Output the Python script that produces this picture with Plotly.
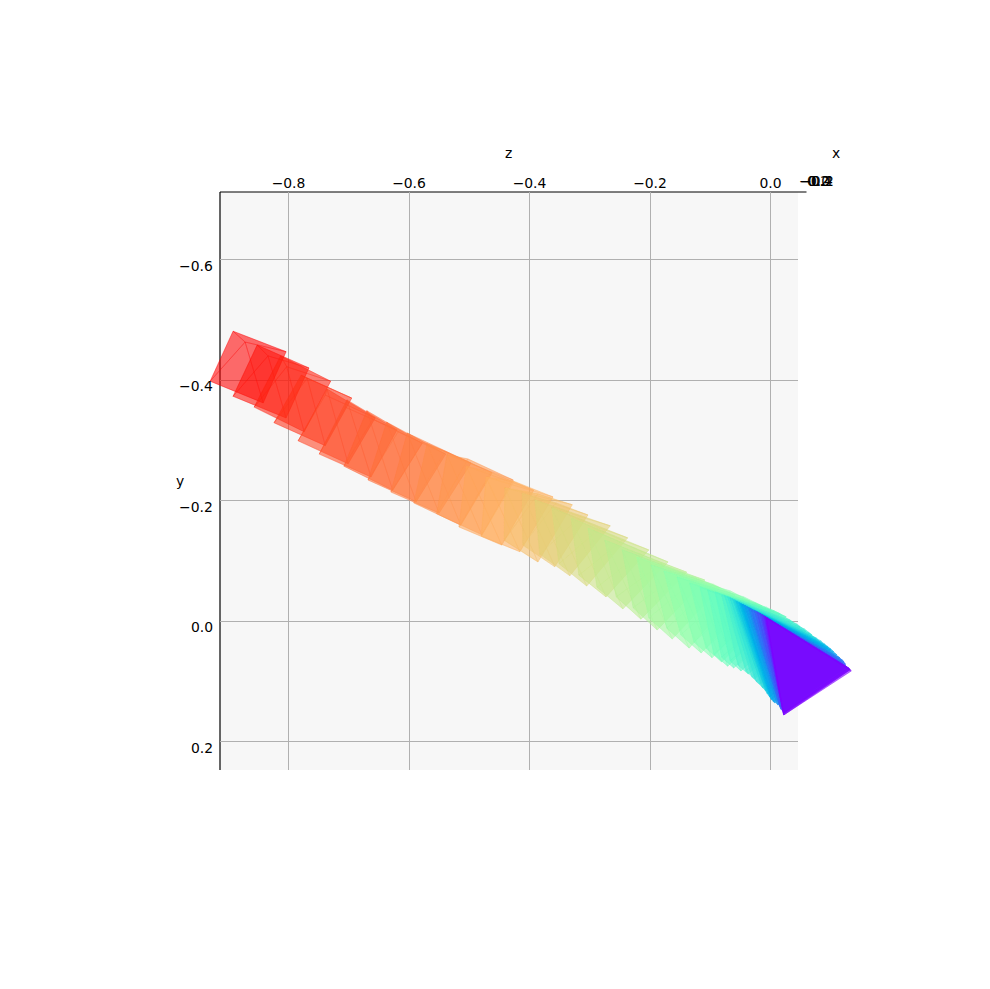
import math
import plotly.graph_objects as go

# Camera frustum vertices (data units of the z and y axes)
apex_z = [-0.872,-0.834,-0.803,-0.769,-0.736,-0.703,-0.670,-0.637,-0.603,-0.570,-0.537,-0.505,-0.472,-0.441,-0.412,-0.391,-0.363,-0.331,-0.303,-0.275,-0.246,-0.222,-0.198,-0.177,-0.155,-0.134,-0.117,-0.104,-0.092,-0.081,-0.076,-0.071,-0.067,-0.062,-0.059,-0.056,-0.052,-0.049,-0.046,-0.042,-0.037,-0.034,-0.031,-0.026,-0.022,-0.017,-0.014,-0.011,-0.009,-0.007]
apex_y = [-0.463,-0.440,-0.422,-0.403,-0.385,-0.367,-0.349,-0.330,-0.312,-0.294,-0.276,-0.257,-0.239,-0.221,-0.212,-0.201,-0.188,-0.171,-0.154,-0.134,-0.118,-0.106,-0.093,-0.083,-0.073,-0.063,-0.056,-0.051,-0.048,-0.043,-0.042,-0.040,-0.038,-0.035,-0.033,-0.032,-0.030,-0.028,-0.027,-0.025,-0.022,-0.020,-0.018,-0.017,-0.015,-0.012,-0.010,-0.008,-0.007,-0.005]
a_z = [-0.892,-0.852,-0.813,-0.779,-0.739,-0.706,-0.660,-0.618,-0.577,-0.540,-0.502,-0.464,-0.426,-0.386,-0.356,-0.316,-0.283,-0.246,-0.213,-0.180,-0.149,-0.122,-0.095,-0.067,-0.044,-0.024,-0.007,0.006,0.019,0.032,0.044,0.056,0.064,0.076,0.084,0.090,0.095,0.100,0.107,0.112,0.115,0.120,0.122,0.124,0.125,0.127,0.129,0.130,0.130,0.132]
a_y = [-0.481,-0.458,-0.440,-0.408,-0.375,-0.355,-0.335,-0.314,-0.297,-0.282,-0.269,-0.247,-0.232,-0.211,-0.196,-0.173,-0.154,-0.134,-0.115,-0.096,-0.081,-0.071,-0.061,-0.050,-0.040,-0.030,-0.023,-0.017,-0.010,-0.002,0.005,0.013,0.020,0.028,0.033,0.038,0.042,0.046,0.053,0.058,0.061,0.065,0.068,0.071,0.075,0.076,0.078,0.078,0.078,0.080]
r_z = [-0.804,-0.766,-0.730,-0.695,-0.656,-0.620,-0.578,-0.539,-0.497,-0.462,-0.427,-0.393,-0.361,-0.329,-0.303,-0.266,-0.237,-0.202,-0.170,-0.139,-0.109,-0.084,-0.059,-0.034,-0.014,0.002,0.016,0.026,0.037,0.049,0.059,0.069,0.076,0.082,0.089,0.095,0.100,0.105,0.110,0.115,0.119,0.122,0.124,0.125,0.127,0.129,0.130,0.132,0.132,0.134]
r_y = [-0.447,-0.420,-0.398,-0.370,-0.337,-0.317,-0.295,-0.277,-0.262,-0.246,-0.234,-0.217,-0.206,-0.193,-0.176,-0.158,-0.138,-0.118,-0.098,-0.081,-0.068,-0.055,-0.043,-0.033,-0.025,-0.017,-0.012,-0.007,0.002,0.010,0.017,0.023,0.030,0.035,0.040,0.045,0.048,0.051,0.056,0.061,0.065,0.068,0.071,0.073,0.076,0.078,0.080,0.081,0.081,0.083]
b_z = [-0.842,-0.804,-0.774,-0.739,-0.701,-0.663,-0.627,-0.588,-0.550,-0.514,-0.479,-0.446,-0.416,-0.386,-0.358,-0.333,-0.305,-0.273,-0.245,-0.215,-0.188,-0.163,-0.135,-0.115,-0.097,-0.081,-0.071,-0.061,-0.049,-0.037,-0.026,-0.017,-0.012,-0.007,-0.004,-0.001,0.002,0.006,0.007,0.012,0.016,0.016,0.017,0.019,0.021,0.022,0.022,0.022,0.022,0.022]
b_y = [-0.362,-0.337,-0.314,-0.291,-0.261,-0.239,-0.217,-0.198,-0.179,-0.159,-0.143,-0.126,-0.115,-0.098,-0.090,-0.075,-0.058,-0.040,-0.020,-0.003,0.015,0.030,0.045,0.053,0.061,0.068,0.075,0.078,0.083,0.088,0.096,0.105,0.111,0.116,0.121,0.126,0.131,0.134,0.136,0.139,0.141,0.143,0.146,0.148,0.149,0.151,0.153,0.154,0.156,0.156]
l_z = [-0.930,-0.892,-0.857,-0.824,-0.784,-0.749,-0.708,-0.668,-0.630,-0.592,-0.554,-0.517,-0.480,-0.442,-0.411,-0.383,-0.351,-0.318,-0.288,-0.256,-0.228,-0.202,-0.172,-0.149,-0.127,-0.107,-0.094,-0.081,-0.067,-0.054,-0.041,-0.031,-0.024,-0.014,-0.009,-0.006,-0.002,0.001,0.004,0.009,0.012,0.014,0.016,0.017,0.019,0.021,0.021,0.021,0.021,0.021]
l_y = [-0.398,-0.373,-0.355,-0.329,-0.299,-0.277,-0.257,-0.234,-0.214,-0.196,-0.178,-0.156,-0.141,-0.134,-0.126,-0.111,-0.095,-0.076,-0.056,-0.040,-0.022,-0.005,0.012,0.023,0.035,0.045,0.055,0.060,0.066,0.073,0.083,0.093,0.100,0.110,0.115,0.120,0.125,0.129,0.133,0.136,0.138,0.139,0.143,0.146,0.148,0.149,0.151,0.151,0.153,0.153]

z_ticks = [-0.8, -0.6, -0.4, -0.2, 0.0]
z_tick_labels = ["−0.8", "−0.6", "−0.4", "−0.2", "0.0"]
y_ticks = [-0.6, -0.4, -0.2, 0.0, 0.2]
y_tick_labels = ["−0.6", "−0.4", "−0.2", "0.0", "0.2"]
x_tick_labels = ["−0.4", "−0.2", "0.0", "0.2"]

FONT = "DejaVu Sans"
FS = 13.9
W, H = 990, 989
SCALE = 602.5          # pixels per data unit
Z0_PX, Y0_PX = 770.5, 621


def rainbow(t, alpha=0.35):
    r = min(1, abs(2 * t - 0.5))
    g = math.sin(math.pi * t)
    b = math.cos(math.pi * t / 2)
    return f"rgba({r*255:.0f},{g*255:.0f},{b*255:.0f},{alpha})"


def px_x(p):
    return p / W


def px_y(p):
    return 1 - p / H


fig = go.Figure()
n = len(apex_z)
for i in range(n):
    t = (n - 1 - i) / (n - 1)
    col = rainbow(t)
    ap = (apex_z[i], apex_y[i])
    A = (a_z[i], a_y[i]); R = (r_z[i], r_y[i]); B = (b_z[i], b_y[i]); L = (l_z[i], l_y[i])
    for poly in ([ap, A, R], [ap, R, B], [ap, B, L], [ap, L, A], [A, R, B, L]):
        closed = poly + [poly[0]]
        fig.add_trace(go.Scatter(
            x=[p[0] for p in closed], y=[p[1] for p in closed],
            xaxis="x2", yaxis="y2",
            mode="lines", fill="toself", fillcolor=col,
            line=dict(color=col, width=0.7),
            hoverinfo="skip", showlegend=False,
        ))

annots = []
for v, s in zip(y_ticks, y_tick_labels):
    annots.append(dict(x=px_x(220), y=v, xref="paper", yref="y", text=s, showarrow=False,
                       xanchor="right", yanchor="middle", xshift=-5, yshift=-6))
for s, cx in zip(x_tick_labels, [816, 816.5, 819, 818]):
    annots.append(dict(x=px_x(cx), y=px_y(181), xref="paper", yref="paper", text=s, showarrow=False,
                       xanchor="center", yanchor="middle"))
for s, cx, cy in (("z", 508, 153), ("x", 836, 153), ("y", 180, 481)):
    annots.append(dict(x=px_x(cx), y=px_y(cy), xref="paper", yref="paper", text=s, showarrow=False,
                       xanchor="center", yanchor="middle"))

shapes = [
    dict(type="rect", xref="paper", yref="paper", x0=px_x(220), x1=px_x(798), y0=px_y(770), y1=px_y(192),
         fillcolor="#f7f7f7", line=dict(width=0), layer="below"),
    dict(type="line", xref="paper", yref="paper", x0=px_x(220), x1=px_x(806.5), y0=px_y(192), y1=px_y(192),
         line=dict(color="black", width=1.2), layer="below"),
    dict(type="line", xref="paper", yref="paper", x0=px_x(220), x1=px_x(220), y0=px_y(770), y1=px_y(192),
         line=dict(color="black", width=1.2), layer="below"),
]

fig.update_layout(
    width=W, height=H, autosize=False,
    margin=dict(l=0, r=0, t=0, b=0, pad=0),
    paper_bgcolor="white", plot_bgcolor="rgba(0,0,0,0)",
    font=dict(family=FONT, size=FS, color="black"),
    annotations=annots, shapes=shapes, showlegend=False,
    xaxis=dict(domain=[px_x(220), px_x(798)], anchor="y",
               range=[(220 - Z0_PX) / SCALE, (798 - Z0_PX) / SCALE], side="top",
               tickvals=z_ticks, ticktext=z_tick_labels,
               showgrid=True, gridcolor="#b0b0b0", gridwidth=1, zeroline=False, showline=False,
               ticks="", tickangle=0),
    yaxis=dict(domain=[px_y(770), px_y(192)], anchor="x",
               range=[(770 - Y0_PX) / SCALE, (192 - Y0_PX) / SCALE],
               tickvals=y_ticks, showticklabels=False,
               showgrid=True, gridcolor="#b0b0b0", gridwidth=1, zeroline=False, showline=False,
               ticks=""),
    xaxis2=dict(domain=[0, 1], anchor="y2", range=[(0 - Z0_PX) / SCALE, (W - Z0_PX) / SCALE], visible=False),
    yaxis2=dict(domain=[0, 1], anchor="x2", range=[(H - Y0_PX) / SCALE, (0 - Y0_PX) / SCALE], visible=False),
)
fig.write_html("out.html", config={"displayModeBar": False}, post_script="document.body.style.margin='0';")
